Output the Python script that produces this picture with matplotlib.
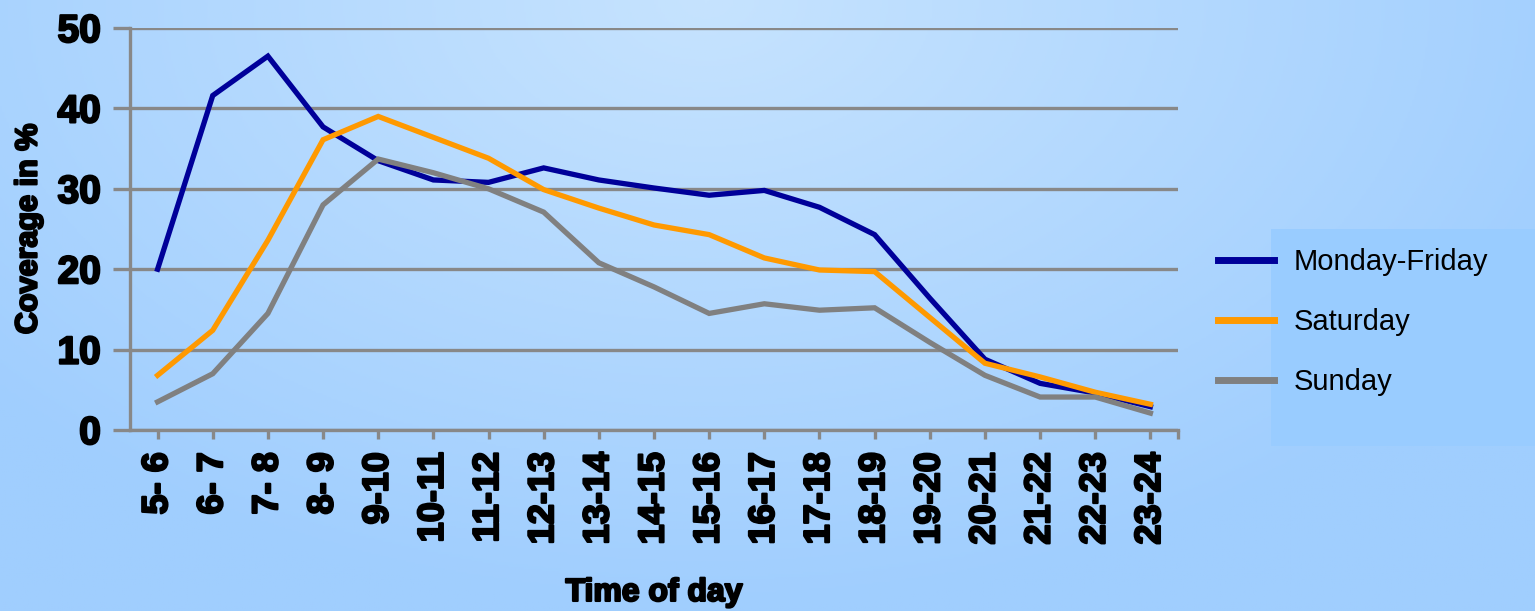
import matplotlib.pyplot as plt
import matplotlib.patheffects as pe
import numpy as np
from matplotlib.colors import LinearSegmentedColormap
from matplotlib.lines import Line2D
from matplotlib.patches import Rectangle

hours = ["5- 6", "6- 7", "7- 8", "8- 9", "9-10", "10-11", "11-12", "12-13",
         "13-14", "14-15", "15-16", "16-17", "17-18", "18-19", "19-20",
         "20-21", "21-22", "22-23", "23-24"]
weekday = [20.0, 41.6, 46.5, 37.7, 33.5, 31.1, 30.8, 32.6, 31.1, 30.1,
           29.2, 29.8, 27.7, 24.3, 16.4, 8.8, 5.8, 4.6, 2.9]
saturday = [6.8, 12.4, 23.6, 36.1, 39.0, 36.4, 33.8, 29.9, 27.6, 25.5,
            24.3, 21.4, 19.9, 19.7, 14.0, 8.3, 6.6, 4.7, 3.2]
sunday = [3.5, 7.0, 14.5, 28.0, 33.7, 32.0, 30.0, 27.1, 20.8, 17.8,
          14.5, 15.7, 14.9, 15.2, 10.9, 6.8, 4.1, 4.1, 2.1]

series = [("Monday-Friday", weekday, "#000099"),
          ("Saturday", saturday, "#FF9900"),
          ("Sunday", sunday, "#808080")]

# heavy look for the axis texts
heavy = [pe.withStroke(linewidth=1.6, foreground="black")]

fig = plt.figure(figsize=(15.35, 6.11), dpi=100)

# soft radial blue background
bg = fig.add_axes([0, 0, 1, 1], zorder=-10)
yy, xx = np.mgrid[0:1:300j, 0:1:700j]
r = np.sqrt(((xx - 0.46) / 0.62) ** 2 + ((yy - 0.0) / 1.0) ** 2)
cmap = LinearSegmentedColormap.from_list("bgblue", ["#C6E3FE", "#A0CEFE"])
bg.imshow(np.clip(r, 0, 1), cmap=cmap, aspect="auto", extent=[0, 1, 1, 0],
          vmin=0, vmax=1)
bg.set_axis_off()

# legend panel
fig.patches.append(Rectangle((1271 / 1535, 1 - 446 / 611), 264 / 1535,
                             217 / 611, transform=fig.transFigure,
                             facecolor="#99CCFF", edgecolor="none", zorder=-5))

ax = fig.add_axes([130 / 1535, 1 - 430 / 611, 1048 / 1535, 402 / 611])
ax.patch.set_alpha(0)

x = np.arange(len(hours))
for name, vals, color in series:
    ax.plot(x, vals, color=color, lw=3.8, solid_joinstyle="miter", label=name,
            zorder=3)

ax.set_xlim(-0.5, len(hours) - 0.5)
ax.set_ylim(0, 50)
ax.set_yticks([0, 10, 20, 30, 40, 50])
ax.set_xticks(x)
ax.set_xticklabels(hours, rotation=90, fontsize=26, fontweight="bold",
                   family="Liberation Sans")
for lbl in ax.get_xticklabels():
    lbl.set_path_effects(heavy)
for lbl in ax.get_yticklabels():
    lbl.set_fontsize(28)
    lbl.set_fontweight("bold")
    lbl.set_family("Liberation Sans")
    lbl.set_path_effects(heavy)

ax.grid(axis="y", color="#888888", lw=2.4)
ax.set_axisbelow(True)
for side in ["top", "right"]:
    ax.spines[side].set_visible(False)
for side in ["left", "bottom"]:
    ax.spines[side].set_color("#888888")
    ax.spines[side].set_linewidth(2.4)
ax.tick_params(axis="y", length=12, width=2.4, color="#888888", pad=9)
ax.tick_params(axis="x", length=0, pad=16)
# little outward marks on the category axis
for xi in list(x) + [len(hours) - 0.5]:
    ax.plot([xi, xi], [0, -0.022], transform=ax.get_xaxis_transform(),
            color="#888888", lw=2.4, clip_on=False, solid_capstyle="butt")

ax.set_ylabel("Coverage in %", fontsize=22, fontweight="bold",
              family="Liberation Sans", labelpad=10, path_effects=heavy)
ax.set_xlabel("Time of day", fontsize=23, fontweight="bold",
              family="Liberation Sans", labelpad=24, path_effects=heavy)

handles = [Line2D([], [], color=c, lw=5) for _, _, c in series]
fig.legend(handles, [s[0] for s in series], loc="upper left",
           bbox_to_anchor=(1192 / 1535, 1 - 222 / 611), frameon=False,
           prop={"family": "Liberation Sans", "size": 21},
           handlelength=1.9, handletextpad=0.7, labelspacing=1.1)

fig.savefig("out.png", dpi=100)
